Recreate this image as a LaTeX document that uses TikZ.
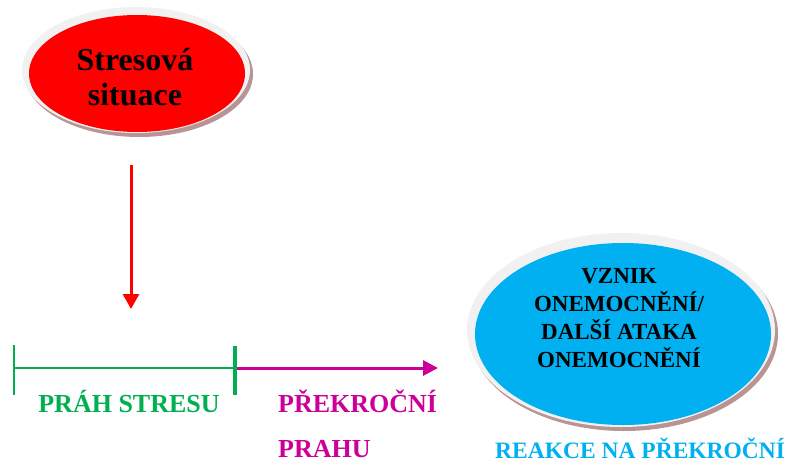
\documentclass[tikz,border=0pt]{standalone}
\usepackage{fontspec}
\setmainfont{Liberation Serif}
\usetikzlibrary{shapes.geometric,arrows.meta}
\definecolor{cred}{HTML}{FF0000}
\definecolor{cgreen}{HTML}{00B050}
\definecolor{cmag}{HTML}{CC0099}
\definecolor{cblue}{HTML}{00B0F0}
\definecolor{cring}{HTML}{F1F1F1}
\definecolor{cshadow}{HTML}{B89494}
\tikzset{
  ring/.style={ellipse, fill=cring, draw=none, inner sep=0pt},
  shade/.style={ellipse, fill=cshadow, draw=none, inner sep=0pt},
  core/.style={ellipse, draw=none, inner sep=0pt},
  lbl/.style={font=\bfseries\fontsize{26}{28}\selectfont, inner sep=0pt},
}
\begin{document}
\begin{tikzpicture}[x=1pt,y=-1pt]
\useasboundingbox (0,0) rectangle (789,463);
% red ellipse
\node[shade, minimum width=228, minimum height=126] (rsh) at (139,74) {};
\node[ring, minimum width=228, minimum height=126] (rring) at (136,70) {};
\node[core, fill=cred, minimum width=216, minimum height=117] (red) at (137,73.5) {};
\node[align=center, inner sep=0pt, font=\bfseries\fontsize{32}{35}\selectfont] (redtxt) at (135,76.6) {Stresová\\situace};
% blue ellipse
\node[shade, minimum width=308, minimum height=194] (bsh) at (624,334) {};
\node[ring, minimum width=308, minimum height=194] (bring) at (621,330) {};
\node[core, fill=cblue, minimum width=296, minimum height=182] (blue) at (623,334) {};
\node[align=center, inner sep=0pt, font=\bfseries\fontsize{23}{28}\selectfont] (bluetxt) at (619,317.6) {VZNIK\\ONEMOCNĚNÍ/\\DALŠÍ ATAKA\\ONEMOCNĚNÍ};
% red arrow
\coordinate (a1) at (131,165);
\coordinate (a2) at (131,309);
\draw[cred, line width=3, -{Triangle[length=15,width=16]}] (a1) -- (a2);
% threshold line
\coordinate (l0) at (14,368);
\coordinate (l1) at (235,368);
\coordinate (l2) at (438,368);
\coordinate (t0a) at (14,345);
\coordinate (t0b) at (14,395);
\coordinate (t1a) at (235,346);
\coordinate (t1b) at (235,395);
\draw[cgreen, line width=2.3] (l0) -- (l1);
\draw[cgreen, line width=2] (t0a) -- (t0b);
\draw[cmag, line width=3, -{Triangle[length=15,width=15]}] (l1) -- (l2);
\draw[cgreen, line width=4.8] (t1a) -- (t1b);
% labels
\node[lbl, text=cgreen, anchor=base] (prah) at (129,412) {PRÁH STRESU};
\node[lbl, text=cmag, anchor=base west] (prek) at (278,412) {PŘEKROČNÍ};
\node[lbl, text=cmag, anchor=base west] (prahu) at (278,457) {PRAHU};
\node[text=cblue, inner sep=0pt, anchor=base west, font=\bfseries\fontsize{23.5}{26}\selectfont] (reakce) at (495,458) {REAKCE NA PŘEKROČNÍ};
\end{tikzpicture}
\end{document}
